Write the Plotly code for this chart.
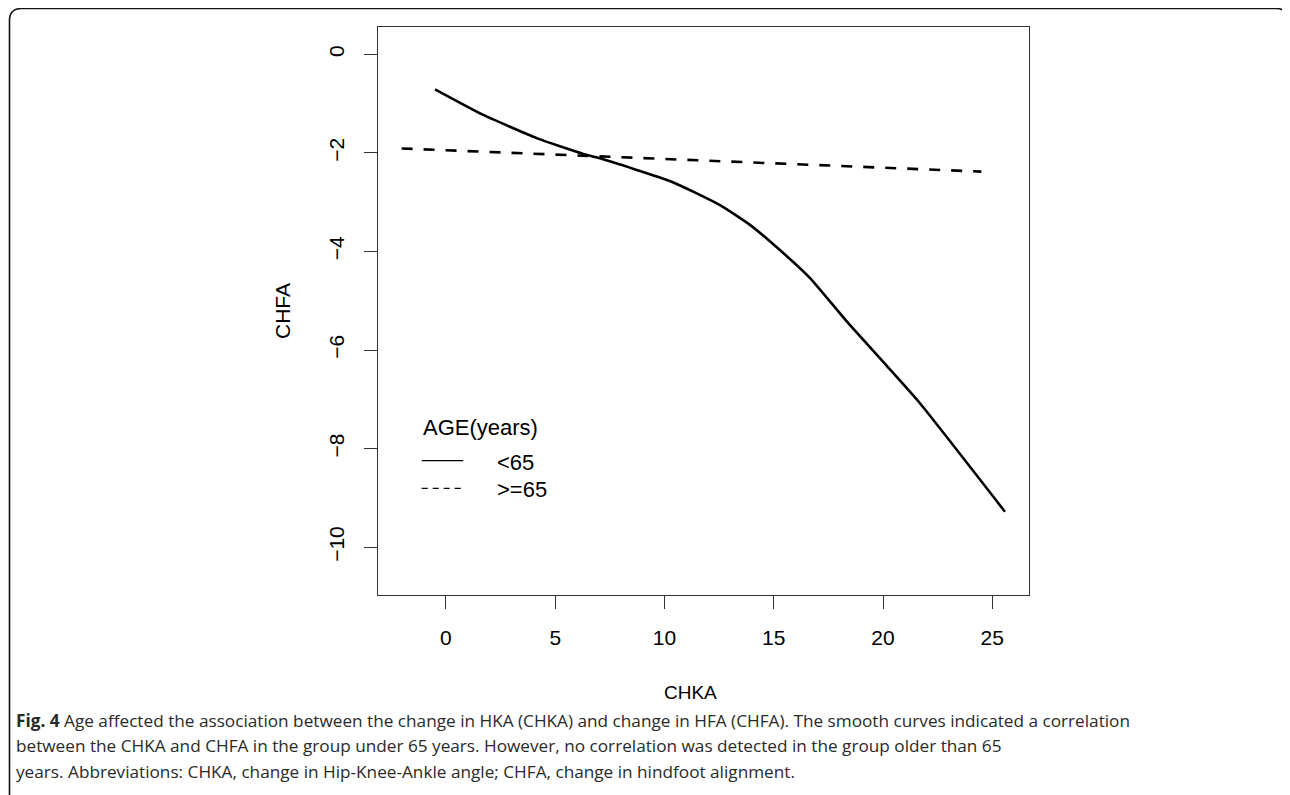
import plotly.graph_objects as go

# ---- data ----
under65_x = [-0.50, 1.71, 4.15, 6.28, 7.05, 10.30, 12.54, 13.91, 15.15, 16.66, 18.40, 20.17, 21.69, 25.58]
under65_y = [-0.71, -1.23, -1.70, -2.02, -2.11, -2.58, -3.06, -3.46, -3.92, -4.54, -5.45, -6.32, -7.08, -9.28]

over65_x = [-2.03, 2.0, 6.0, 10.0, 14.0, 18.0, 22.0, 24.5]
over65_y = [-1.91, -1.98, -2.05, -2.12, -2.20, -2.27, -2.34, -2.38]

x_ticks = [0, 5, 10, 15, 20, 25]
y_ticks = [0, -2, -4, -6, -8, -10]
x_range = [-3.11, 26.68]
y_range = [-10.97, 0.554]

legend_title = "AGE(years)"
legend_labels = ["<65", ">=65"]
x_title = "CHKA"
y_title = "CHFA"
caption_lines = [
    "<b>Fig. 4</b> Age affected the association between the change in HKA (CHKA) and change in HFA (CHFA). The smooth curves indicated a correlation",
    "between the CHKA and CHFA in the group under 65 years. However, no correlation was detected in the group older than 65",
    "years. Abbreviations: CHKA, change in Hip-Knee-Ankle angle; CHFA, change in hindfoot alignment.",
]

# ---- layout geometry (page has an 8px body margin) ----
OFF = 8
W, H = 1290 - OFF, 795 - OFF
L, T = 378 - OFF, 27 - OFF
PW, PH = 651, 568
R, B = W - L - PW, H - T - PH


def px(x):  # reference-screen pixel -> paper
    return (x - OFF - L) / PW


def py(y):
    return 1 - (y - OFF - T) / PH


AX_FONT = "Liberation Sans, Arial, Helvetica, sans-serif"
CAP_FONT = "Open Sans, sans-serif"

fig = go.Figure()
fig.add_trace(go.Scatter(x=under65_x, y=under65_y, mode="lines", name=legend_labels[0],
                         line=dict(color="black", width=2.6, shape="spline", smoothing=0.5),
                         showlegend=False, hoverinfo="skip"))
fig.add_trace(go.Scatter(x=over65_x, y=over65_y, mode="lines", name=legend_labels[1],
                         line=dict(color="black", width=2.6, dash="11px,11px"),
                         showlegend=False, hoverinfo="skip"))

axis_common = dict(showgrid=False, zeroline=False, showline=True, linecolor="#333333", linewidth=1.2,
                   mirror=True, ticks="outside", ticklen=13, tickwidth=1.2, tickcolor="#333333",
                   tickfont=dict(family=AX_FONT, size=21, color="black"))

fig.update_xaxes(range=x_range, tickvals=x_ticks, ticktext=[str(v) for v in x_ticks],
                 ticklabelstandoff=11, **axis_common)
fig.update_yaxes(range=y_range, tickvals=y_ticks, ticktext=[str(v).replace("-", "\u2212") for v in y_ticks],
                 tickangle=-90, ticklabelstandoff=12, **axis_common)

shapes = []
# outer rounded frame
x0, y0, x1, y1, r = 9.5, 8.5, 1288, 800, 12
path = (f"M {px(x0)} {py(y1)} L {px(x0)} {py(y0 + r)} "
        f"Q {px(x0)} {py(y0)} {px(x0 + r)} {py(y0)} "
        f"L {px(x1 - r)} {py(y0)} Q {px(x1)} {py(y0)} {px(x1)} {py(y0 + r)} "
        f"L {px(x1)} {py(y1)}")
shapes.append(dict(type="path", xref="paper", yref="paper", path=path,
                   line=dict(color="#111111", width=1.6)))
# legend samples
shapes.append(dict(type="line", xref="paper", yref="paper", x0=px(421.7), x1=px(463.3),
                   y0=py(460.7), y1=py(460.7), line=dict(color="black", width=1.2)))
shapes.append(dict(type="line", xref="paper", yref="paper", x0=px(421.7), x1=px(463.3),
                   y0=py(488.3), y1=py(488.3), line=dict(color="black", width=1.2, dash="6px,5px")))

annotations = []
annotations.append(dict(text=legend_title, x=px(421), y=py(427), xref="paper", yref="paper",
                        xanchor="left", yanchor="middle", showarrow=False,
                        font=dict(family=AX_FONT, size=22, color="black")))
annotations.append(dict(text=legend_labels[0], x=px(495), y=py(462), xref="paper", yref="paper",
                        xanchor="left", yanchor="middle", showarrow=False,
                        font=dict(family=AX_FONT, size=22, color="black")))
annotations.append(dict(text=legend_labels[1], x=px(495), y=py(489), xref="paper", yref="paper",
                        xanchor="left", yanchor="middle", showarrow=False,
                        font=dict(family=AX_FONT, size=22, color="black")))
annotations.append(dict(text=x_title, x=px(690.5), y=py(692), xref="paper", yref="paper",
                        xanchor="center", yanchor="middle", showarrow=False,
                        font=dict(family=AX_FONT, size=19, color="black")))
annotations.append(dict(text=y_title, x=px(282), y=py(311), xref="paper", yref="paper",
                        xanchor="center", yanchor="middle", showarrow=False, textangle=-90,
                        font=dict(family=AX_FONT, size=21, color="black")))
for i, line in enumerate(caption_lines):
    annotations.append(dict(text=line, x=px(14), y=py(720 + i * 25.5), xref="paper", yref="paper",
                            xanchor="left", yanchor="middle", showarrow=False,
                            font=dict(family=CAP_FONT, size=17.2, color="#2a2a2a")))

fig.update_layout(width=W, height=H, margin=dict(l=L, r=R, t=T, b=B, pad=0),
                  plot_bgcolor="white", paper_bgcolor="white",
                  shapes=shapes, annotations=annotations, showlegend=False)

fig.write_html("out.html")
